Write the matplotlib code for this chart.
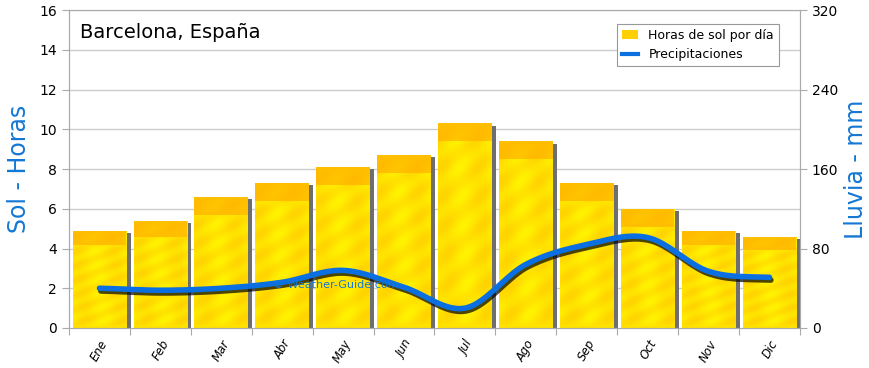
import matplotlib.pyplot as plt
import numpy as np
import matplotlib.patheffects as pe
from matplotlib.patches import Rectangle, Patch
from matplotlib.lines import Line2D

months = ['Ene', 'Feb', 'Mar', 'Abr', 'May', 'Jun', 'Jul', 'Ago', 'Sep', 'Oct', 'Nov', 'Dic']
sun_hours = [4.9, 5.4, 6.6, 7.3, 8.1, 8.7, 10.3, 9.4, 7.3, 6.0, 4.9, 4.6]
rain_mm = [40, 38, 40, 46, 58, 41, 20, 64, 84, 91, 57, 51]

plt.rcParams['font.family'] = ['DejaVu Sans']

fig = plt.figure(figsize=(8.7, 3.68), dpi=100)
ax = fig.add_axes([0.0793, 0.1087, 0.8402, 0.8641])
ax2 = ax.twinx()

x = np.arange(len(months))

# texture image for bars
h, w = 200, 60
yy, xx = np.mgrid[0:h, 0:w]
stripe = 0.5 + 0.5 * np.sin((xx * 0.9 + yy * 0.6) / 6.0) * np.sin(yy / 9.0)
base = np.zeros((h, w, 3))
base[..., 0] = 1.0
base[..., 1] = 0.95 - 0.12 * stripe
base[..., 2] = 0.0

bw = 0.88
for i, v in enumerate(sun_hours):
    # shadow
    sh = Rectangle((i - bw / 2 + 0.07, 0), bw, v - 0.12, facecolor='#6E6E6E',
                   edgecolor='none', zorder=1)
    ax.add_patch(sh)
    bar = Rectangle((i - bw / 2, 0), bw, v, facecolor='#FFF200', edgecolor='none', zorder=2)
    ax.add_patch(bar)
    im = ax.imshow(base, extent=(i - bw / 2, i + bw / 2, 0, v), aspect='auto',
                   zorder=2, interpolation='bilinear')
    im.set_clip_path(bar)
    # orange band at top
    band_h = min(0.9, v * 0.15)
    band = Rectangle((i - bw / 2, v - band_h), bw, band_h, facecolor='#FFB000',
                     alpha=0.7, edgecolor='none', zorder=3)
    ax.add_patch(band)

ax.set_ylim(0, 16)
ax.set_xlim(-0.5, len(months) - 0.5)
ax2.set_ylim(0, 320)

# smooth rain line (Catmull-Rom through the monthly points)
pts = np.array(rain_mm, dtype=float)
p = np.concatenate([[pts[0]], pts, [pts[-1]]])
xs, ys = [], []
for i in range(len(pts) - 1):
    p0, p1, p2, p3 = p[i], p[i + 1], p[i + 2], p[i + 3]
    t = np.linspace(0, 1, 20, endpoint=False)
    yv = 0.5 * (2 * p1 + (-p0 + p2) * t + (2 * p0 - 5 * p1 + 4 * p2 - p3) * t ** 2
                + (-p0 + 3 * p1 - 3 * p2 + p3) * t ** 3)
    xs.extend(i + t)
    ys.extend(yv)
xs.append(len(pts) - 1)
ys.append(pts[-1])
ax2.plot(xs, ys, color='#0A6FE0', lw=4, solid_capstyle='round', zorder=5,
         path_effects=[pe.SimpleLineShadow(offset=(1, -2), shadow_color='black', alpha=0.7),
                       pe.Normal()])

# grid and axes styling
ax.set_yticks(range(0, 17, 2))
ax2.set_yticks(range(0, 321, 80))
for yv in range(2, 17, 2):
    ax.axhline(yv, color='#CCCCCC', lw=1, zorder=0)
ax.set_axisbelow(True)
ax.set_xticks(np.arange(-0.5, len(months), 1))
ax.set_xticklabels([])
ax.set_xticks(x, minor=True)
ax.set_xticklabels(months, minor=True, rotation=60, fontsize=8.5, style='italic',
                   ha='right', rotation_mode='anchor')
ax.tick_params(axis='x', which='minor', length=0, pad=7)
ax.tick_params(axis='x', which='major', length=5, color='#AAAAAA')
ax.tick_params(axis='y', length=5, color='#AAAAAA', labelsize=10)
ax2.tick_params(axis='y', length=5, color='#AAAAAA', labelsize=10)
for a in (ax, ax2):
    for s in a.spines.values():
        s.set_color('#AAAAAA')
ax.spines['top'].set_color('#CCCCCC')

ax.set_ylabel('Sol - Horas', color='#1478D4', fontsize=17, labelpad=6)
ax2.set_ylabel('Lluvia - mm', color='#1478D4', fontsize=17, labelpad=4)

ax.text(0.015, 0.93, 'Barcelona, España', transform=ax.transAxes, fontsize=14,
        va='center', ha='left')
ax2.text(2.85, 43, '© Weather-Guide.com', color='#1478D4', fontsize=8, zorder=6,
         va='center')

handles = [Patch(facecolor='#FFD000', edgecolor='none'),
           Line2D([0], [0], color='#0A6FE0', lw=3)]
leg = ax2.legend(handles, ['Horas de sol por día', 'Precipitaciones'], loc='upper right',
                 bbox_to_anchor=(0.98, 0.975), fontsize=9, fancybox=False,
                 edgecolor='#999999', framealpha=1, handlelength=1.3)
leg.get_frame().set_linewidth(0.8)

fig.savefig('out.png', dpi=100)
